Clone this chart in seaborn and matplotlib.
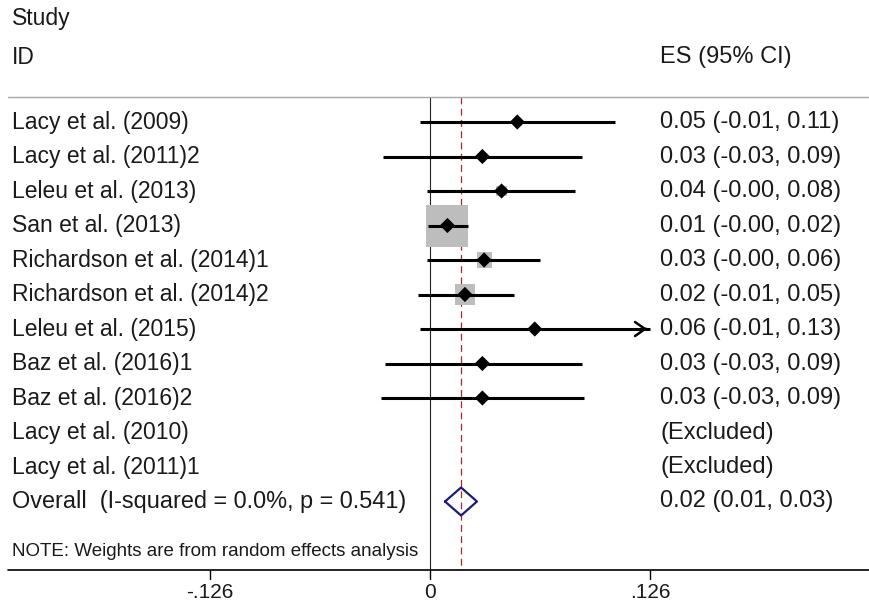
import numpy as np
import pandas as pd
import matplotlib
matplotlib.use("Agg")
import matplotlib.pyplot as plt
import seaborn as sns

# ---------------- data ----------------
studies = ["Lacy et al. (2009)", "Lacy et al. (2011)2", "Leleu et al. (2013)",
           "San et al. (2013)", "Richardson et al. (2014)1", "Richardson et al. (2014)2",
           "Leleu et al. (2015)", "Baz et al. (2016)1", "Baz et al. (2016)2"]
es = [0.050, 0.030, 0.041, 0.010, 0.031, 0.020, 0.060, 0.030, 0.030]
ci_low = [-0.006, -0.027, -0.002, -0.001, -0.002, -0.007, -0.006, -0.026, -0.028]
ci_high = [0.106, 0.087, 0.083, 0.022, 0.063, 0.048, 0.130, 0.087, 0.088]
weights = [1.9, 2.2, 3.8, 63.5, 8.2, 14.5, 1.7, 2.1, 2.1]
es_labels = ["0.05 (-0.01, 0.11)", "0.03 (-0.03, 0.09)", "0.04 (-0.00, 0.08)",
             "0.01 (-0.00, 0.02)", "0.03 (-0.00, 0.06)", "0.02 (-0.01, 0.05)",
             "0.06 (-0.01, 0.13)", "0.03 (-0.03, 0.09)", "0.03 (-0.03, 0.09)"]
excluded = ["Lacy et al. (2010)", "Lacy et al. (2011)1"]
excluded_label = "(Excluded)"
overall_label = "Overall  (I-squared = 0.0%, p = 0.541)"
overall_es = 0.0178
overall_low = 0.0086
overall_high = 0.0269
overall_text = "0.02 (0.01, 0.03)"
tick_values = [-0.126, 0.0, 0.126]
tick_labels = ["-.126", "0", ".126"]
header_left = ["Study", "ID"]
header_right = "ES (95% CI)"
note = "NOTE: Weights are from random effects analysis"

# ---------------- layout ----------------
W, H = 869, 603
px_per_unit = 220 / 0.126
x0_px = 430
row0_px, row_step = 122, 34.5


def py(p):  # pixel row -> data y
    return (p - row0_px) / row_step


sns.set_theme(style="white")
plt.rcParams["font.family"] = ["Liberation Sans", "DejaVu Sans"]
txt_color = "#1a1a1a"
fs = 16.5
fs_r = 17

fig = plt.figure(figsize=(W / 100, H / 100), dpi=100)
ax = fig.add_axes([0, 0, 1, 1])
ax.set_xlim(-x0_px / px_per_unit, (W - x0_px) / px_per_unit)
ax.set_ylim(py(H), py(0))
ax.axis("off")

n = len(studies)
df = pd.DataFrame({"study": studies, "es": es, "lo": ci_low, "hi": ci_high,
                   "w": weights, "lab": es_labels})
df["y"] = np.arange(n)
xmax_clip = max(tick_values)
df["hi_clip"] = np.minimum(df["hi"], xmax_clip)

top_y, bot_y = py(97), py(570)

# reference lines
ax.plot([0, 0], [top_y, bot_y], color="#222222", lw=0.8, zorder=1)
ax.plot([overall_es, overall_es], [top_y, bot_y], color="#a52a2a", lw=0.9,
        ls=(0, (5.5, 3.5)), zorder=1)

# weight boxes
box_px = 42 / np.sqrt(max(weights))
df["s"] = (box_px * np.sqrt(df["w"]) * 0.72) ** 2
sns.scatterplot(data=df, x="es", y="y", marker="s", s=df["s"].values,
                color="#bdbdbd", edgecolor="none", linewidth=0, ax=ax,
                legend=False, zorder=2)

# CI lines
for _, r in df.iterrows():
    if r["hi"] > xmax_clip:
        ax.plot([r["lo"], r["hi_clip"]], [r["y"], r["y"]], color="black", lw=2.2,
                solid_capstyle="butt", zorder=3)
        ax.annotate("", xy=(r["hi_clip"], r["y"]), xytext=(r["hi_clip"] - 0.004, r["y"]),
                    arrowprops=dict(arrowstyle="->,head_length=0.6,head_width=0.42",
                                    color="black", lw=1.8), zorder=3)
    else:
        ax.plot([r["lo"], r["hi"]], [r["y"], r["y"]], color="black", lw=2.2,
                solid_capstyle="butt", zorder=3)

# point estimates
sns.scatterplot(data=df, x="es", y="y", marker="D", s=60, color="black",
                edgecolor="none", linewidth=0, ax=ax, legend=False, zorder=4)

# overall diamond
oy = n + len(excluded)
dh = 14 / row_step
ax.plot([overall_low, overall_es, overall_high, overall_es, overall_low],
        [oy, oy - dh, oy, oy + dh, oy], color="#1c1c78", lw=1.6, zorder=4)

# texts
tx = ax.get_yaxis_transform()
left_x = 12 / W
right_x = 660 / W
ax.text(left_x, py(18), header_left[0], transform=tx, ha="left", va="center",
        fontsize=fs, color=txt_color)
ax.text(left_x, py(57), header_left[1], transform=tx, ha="left", va="center",
        fontsize=fs, color=txt_color)
ax.text(right_x, py(57), header_right, transform=tx, ha="left", va="center",
        fontsize=fs_r, color=txt_color)
for i, (s, l) in enumerate(zip(studies, es_labels)):
    ax.text(left_x, i, s, transform=tx, ha="left", va="center", fontsize=fs, color=txt_color)
    ax.text(right_x, i, l, transform=tx, ha="left", va="center", fontsize=fs_r, color=txt_color)
for j, s in enumerate(excluded):
    ax.text(left_x, n + j, s, transform=tx, ha="left", va="center", fontsize=fs, color=txt_color)
    ax.text(right_x, n + j, excluded_label, transform=tx, ha="left", va="center",
            fontsize=fs_r, color=txt_color)
ax.text(left_x, oy, overall_label, transform=tx, ha="left", va="center", fontsize=16.9,
        color=txt_color)
ax.text(right_x, oy, overall_text, transform=tx, ha="left", va="center", fontsize=fs_r,
        color=txt_color)
ax.text(left_x, py(551), note, transform=tx, ha="left", va="center", fontsize=13.5,
        color=txt_color)

# separator and axis
ax.plot([8 / W, 1], [top_y, top_y], transform=tx, color="#a8a8a8", lw=1.0, zorder=1)
ax.plot([8 / W, 1], [bot_y, bot_y], transform=tx, color="black", lw=1.2, zorder=1)
for tv, tl in zip(tick_values, tick_labels):
    ax.plot([tv, tv], [bot_y, py(579)], color="black", lw=1.0)
    ax.text(tv, py(592), tl, ha="center", va="center", fontsize=fs - 1.5, color=txt_color)

fig.savefig("out.png", dpi=100, facecolor="white")
